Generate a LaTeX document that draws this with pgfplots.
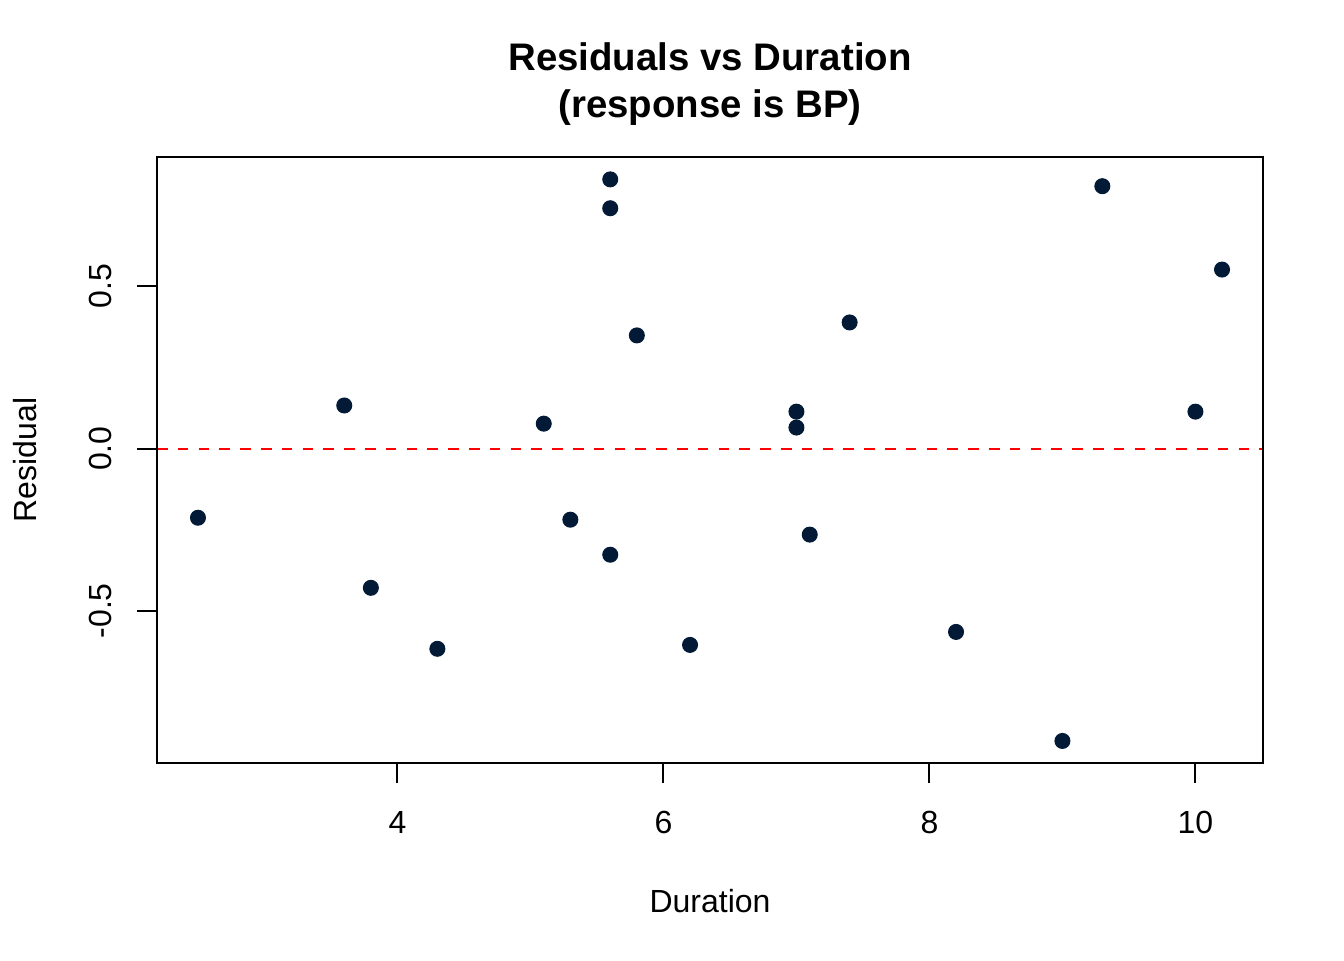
\documentclass[border=0pt]{standalone}
\usepackage{fontspec}
\setmainfont{Liberation Sans}
\usepackage{pgfplots}
\pgfplotsset{compat=1.18}
\definecolor{ptnavy}{HTML}{021A36}
\begin{document}
\begin{tikzpicture}
% page is 1344x960 px, 1px = 0.375pt
\useasboundingbox (0,0) rectangle (504pt,360pt);
\begin{axis}[
    at={(58.875pt,73.875pt)}, anchor=south west,
    scale only axis,
    width=414.75pt, height=227.25pt,
    xmin=2.192, xmax=10.508,
    ymin=-0.969, ymax=0.899,
    axis line style={line width=0.75pt},
    every tick/.style={black, line width=0.75pt},
    major tick length=7.5pt,
    tick align=outside,
    axis x line*=bottom, axis y line*=left,
    xtick={4,6,8,10}, xticklabels={4,6,8,10},
    ytick={-0.5,0,0.5}, yticklabels={-0.5,0.0,0.5},
    tick label style={font=\fontsize{12}{14}\selectfont},
    xticklabel style={anchor=base, yshift=-19.1pt},
    yticklabel style={xshift=-9.4pt, rotate=90, anchor=base},
    clip=false,
]
\addplot[red, line width=0.75pt, dash pattern=on 4pt off 3.8pt] coordinates {(2.192,0) (10.508,0)};
\addplot[only marks, mark=*, mark size=2.8pt, color=ptnavy] coordinates {
    (2.5,-0.213) (3.6,0.133) (3.8,-0.429) (4.3,-0.617) (5.1,0.077)
    (5.3,-0.219) (5.6,0.830) (5.6,0.741) (5.6,-0.327) (5.8,0.349)
    (6.2,-0.605) (7.0,0.114) (7.0,0.065) (7.1,-0.265) (7.4,0.389)
    (8.2,-0.565) (9.0,-0.901) (9.3,0.809) (10.0,0.114) (10.2,0.552)
};
\end{axis}
% close the box (top and right sides)
\draw[line width=0.75pt] (58.875pt,73.875pt) rectangle (473.625pt,301.125pt);
\node[anchor=base, font=\fontsize{14.4}{17}\selectfont\bfseries, inner sep=0pt] at (266.25pt,333.4pt) {Residuals vs Duration};
\node[anchor=base, font=\fontsize{14.4}{17}\selectfont\bfseries, inner sep=0pt] at (266.25pt,316.1pt) {(response is BP)};
\node[anchor=base, font=\fontsize{12}{14}\selectfont, inner sep=0pt] at (266.25pt,18pt) {Duration};
\node[anchor=base, rotate=90, font=\fontsize{12}{14}\selectfont, inner sep=0pt] at (13.5pt,187.5pt) {Residual};
\end{tikzpicture}
\end{document}
